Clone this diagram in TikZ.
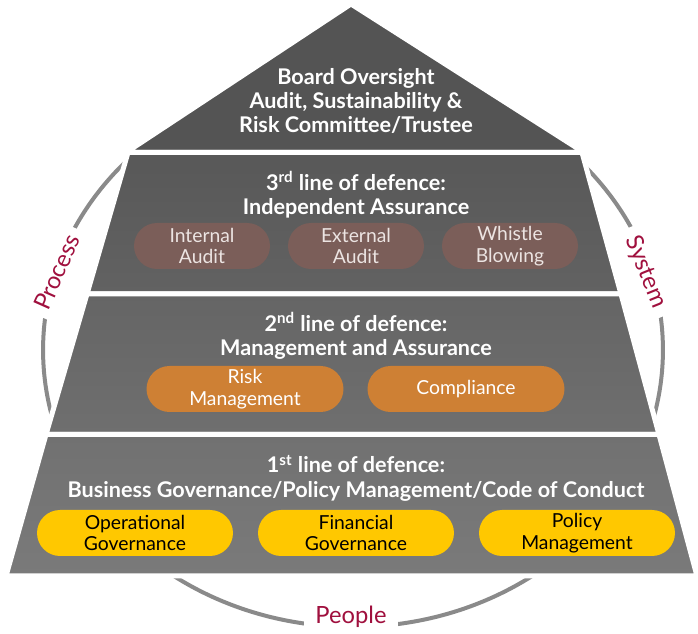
\documentclass[tikz,border=0pt]{standalone}
\usepackage{fontspec}
\setmainfont{Lato}
\usetikzlibrary{positioning}
\definecolor{BoardGray}{RGB}{84,84,84}
\definecolor{ThirdTop}{RGB}{88,88,88}
\definecolor{ThirdBot}{RGB}{98,98,98}
\definecolor{SecondTop}{RGB}{101,101,101}
\definecolor{SecondBot}{RGB}{111,111,111}
\definecolor{FirstTop}{RGB}{113,113,113}
\definecolor{FirstBot}{RGB}{122,122,122}
\definecolor{RingGray}{RGB}{138,138,138}
\definecolor{LabelRed}{RGB}{160,16,62}
\definecolor{AuditBrown}{RGB}{123,94,89}
\definecolor{AuditText}{RGB}{236,228,226}
\definecolor{RiskOrange}{RGB}{206,128,52}
\definecolor{GovYellow}{RGB}{255,200,0}
\tikzset{
  band/.style={draw=white,line width=0.1cm,line join=round},
  title/.style={align=center,text=white,font=\fontsize{12.3}{13.8}\selectfont\bfseries},
  pill/.style={rounded corners=0.46cm,minimum height=0.92cm,align=center,inner sep=0pt,font=\fontsize{11}{12.4}\selectfont},
  auditpill/.style={pill,fill=AuditBrown,text=AuditText,minimum width=2.72cm},
  riskpill/.style={pill,fill=RiskOrange,text=white,minimum width=3.94cm},
  govpill/.style={pill,fill=GovYellow,text=black,minimum width=3.92cm},
  ring/.style={draw=RingGray,line width=0.08cm},
  ringlabel/.style={fill=white,text=LabelRed,minimum width=1.9cm,minimum height=0.64cm,inner sep=0pt,font=\fontsize{13.5}{16}\selectfont}
}

\begin{document}
\begin{tikzpicture}[x=0.02cm,y=-0.02cm]
\useasboundingbox (0,0) rectangle (698,634);

% ring behind the pyramid
\draw[ring] (353,350) ellipse [x radius=6.2cm, y radius=5.54cm];

% pyramid
\path[band,fill=BoardGray] (351,4) -- (584,152.5) -- (126,152.5) -- cycle;
\path[band,top color=ThirdTop,bottom color=ThirdBot] (128,152.5) -- (582,152.5) -- (621,294) -- (87,294) -- cycle;
\path[band,top color=SecondTop,bottom color=SecondBot] (87,294) -- (621,294) -- (659,434.5) -- (46,434.5) -- cycle;
\path[band,top color=FirstTop,bottom color=FirstBot] (46,434.5) -- (659,434.5) -- (697,576) -- (6,576) -- cycle;

% board
\node[title] (board) at (356,101) {Board Oversight\\Audit, Sustainability \&\\Risk Committee/Trustee};

% 3rd line
\node[title] (third) at (356,195) {3\textsuperscript{rd} line of defence:\\Independent Assurance};
\node[auditpill] (internal) at (202,246) {Internal\\Audit};
\node[auditpill] (external) at (356,246) {External\\Audit};
\node[auditpill] (whistle) at (510,246) {Whistle\\Blowing};

% 2nd line
\node[title] (second) at (356,336) {2\textsuperscript{nd} line of defence:\\Management and Assurance};
\node[riskpill] (risk) at (245,389) {Risk\\Management};
\node[riskpill] (compliance) at (466,389) {Compliance};

% 1st line
\node[title] (first) at (356,478) {1\textsuperscript{st} line of defence:\\Business Governance/Policy Management/Code of Conduct};
\node[govpill] (operational) at (135,533) {Operational\\Governance};
\node[govpill] (financial) at (356,533) {Financial\\Governance};
\node[govpill] (policy) at (577,533) {Policy\\Management};

% ring labels
\node[ringlabel,rotate=66] (process) at (57,272) {Process};
\node[ringlabel,rotate=-68] (system) at (646,272) {System};
\node[ringlabel] (people) at (351,617) {People};
\end{tikzpicture}
\end{document}
